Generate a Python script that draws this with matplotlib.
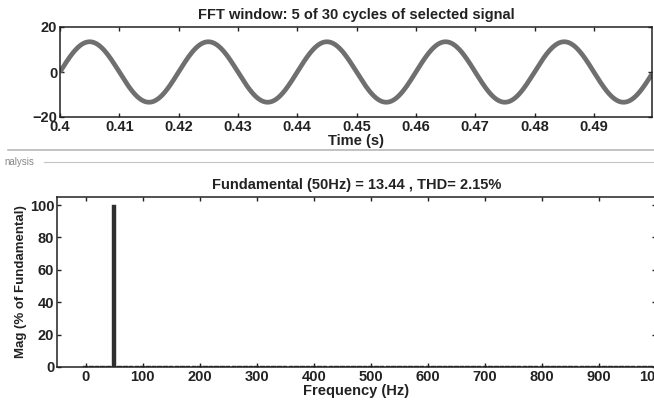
import numpy as np
import matplotlib
matplotlib.use('Agg')
import matplotlib.pyplot as plt
from matplotlib.lines import Line2D

# signal parameters (from the FFT result in the title)
fund_freq = 50.0
fund_mag = 13.44
thd = 2.15
t_start, t_end = 0.4, 0.4998

# spectrum, % of fundamental, 10 Hz bins from 0 to 1000 Hz
freqs = np.arange(0, 1001, 10)
mags = [0.6, 0.5, 0.6, 0.5, 0.6, 100.0, 0.6, 0.5, 0.6, 0.5,
        0.6, 0.5, 0.6, 0.5, 0.6, 0.7, 0.6, 0.5, 0.6, 0.5,
        0.6, 0.5, 0.6, 0.5, 0.6, 0.7, 0.6, 0.5, 0.6, 0.5,
        0.6, 0.5, 0.6, 0.5, 0.6, 0.7, 0.6, 0.5, 0.6, 0.5,
        0.6, 0.5, 0.6, 0.5, 0.6, 0.7, 0.6, 0.5, 0.6, 0.5,
        0.6, 0.5, 0.6, 0.5, 0.6, 0.7, 0.6, 0.5, 0.6, 0.5,
        0.6, 0.5, 0.6, 0.5, 0.6, 0.7, 0.6, 0.5, 0.6, 0.5,
        0.6, 0.5, 0.6, 0.5, 0.6, 0.7, 0.6, 0.5, 0.6, 0.5,
        0.6, 0.5, 0.6, 0.5, 0.6, 0.7, 0.6, 0.5, 0.6, 0.5,
        0.6, 0.5, 0.6, 0.5, 0.6, 0.7, 0.6, 0.5, 0.6, 0.5,
        0.6]

time_ticks = [0.4, 0.41, 0.42, 0.43, 0.44, 0.45, 0.46, 0.47, 0.48, 0.49]
freq_ticks = [0, 100, 200, 300, 400, 500, 600, 700, 800, 900, 1000]

plt.rcParams['font.family'] = ['Liberation Sans', 'DejaVu Sans']
plt.rcParams['font.weight'] = 'bold'

W, H = 654, 400
FS = 10.5
fig = plt.figure(figsize=(W / 100, H / 100), dpi=100)
fig.patch.set_facecolor('white')

def px_axes(left, top, right, bottom):
    return fig.add_axes([left / W, 1 - bottom / H, (right - left) / W, (bottom - top) / H])

def style(ax):
    ax.tick_params(direction='in', top=True, right=True, length=3, width=1,
                   labelsize=FS, pad=2, colors='#222222')
    for s in ax.spines.values():
        s.set_linewidth(1.1)
        s.set_color('#222222')

# top: time signal
ax1 = px_axes(60, 27, 652, 117)
t = np.linspace(t_start, t_end, 2000)
sig = fund_mag * np.sin(2 * np.pi * fund_freq * (t - t_start))
ax1.plot(t, sig, color='#6f6f6f', lw=3.4, solid_capstyle='butt')
ax1.set_xlim(t_start, t_end)
ax1.set_ylim(-20, 20)
ax1.set_yticks([-20, 0, 20])
ax1.set_xticks(time_ticks)
ax1.set_xticklabels([f'{v:g}' for v in time_ticks])
style(ax1)
ax1.set_title('FFT window: 5 of 30 cycles of selected signal', fontsize=FS,
              fontweight='bold', pad=6, color='#222222')
ax1.set_xlabel('Time (s)', fontsize=FS, fontweight='bold', labelpad=0, color='#222222')

# panel separators
fig.add_artist(Line2D([8 / W, 1], [1 - 150 / H] * 2, color='#b8b8b8', lw=1.2))
fig.add_artist(Line2D([44 / W, 1], [1 - 162 / H] * 2, color='#c4c4c4', lw=0.8))
fig.text(4 / W, 1 - 162 / H, 'nalysis', fontsize=7, color='#888888',
         va='center', ha='left', fontweight='normal')

# bottom: spectrum
ax2 = px_axes(57, 197, 656, 367)
ax2.bar(freqs, mags, width=8, color='#2f2f2f', edgecolor='#2f2f2f', linewidth=0.3)
ax2.set_xlim(-50, 1000)
ax2.set_ylim(0, 105)
ax2.set_xticks(freq_ticks)
ax2.set_yticks([0, 20, 40, 60, 80, 100])
style(ax2)
ax2.set_title(f'Fundamental ({fund_freq:g}Hz) = {fund_mag} , THD= {thd}%',
              fontsize=FS, fontweight='bold', pad=6, color='#222222')
ax2.set_xlabel('Frequency (Hz)', fontsize=FS, fontweight='bold', labelpad=0, color='#222222')
ax2.set_ylabel('Mag (% of Fundamental)', fontsize=9.5, fontweight='bold', labelpad=2, color='#222222')

fig.savefig('out.png', dpi=100, facecolor='white')
